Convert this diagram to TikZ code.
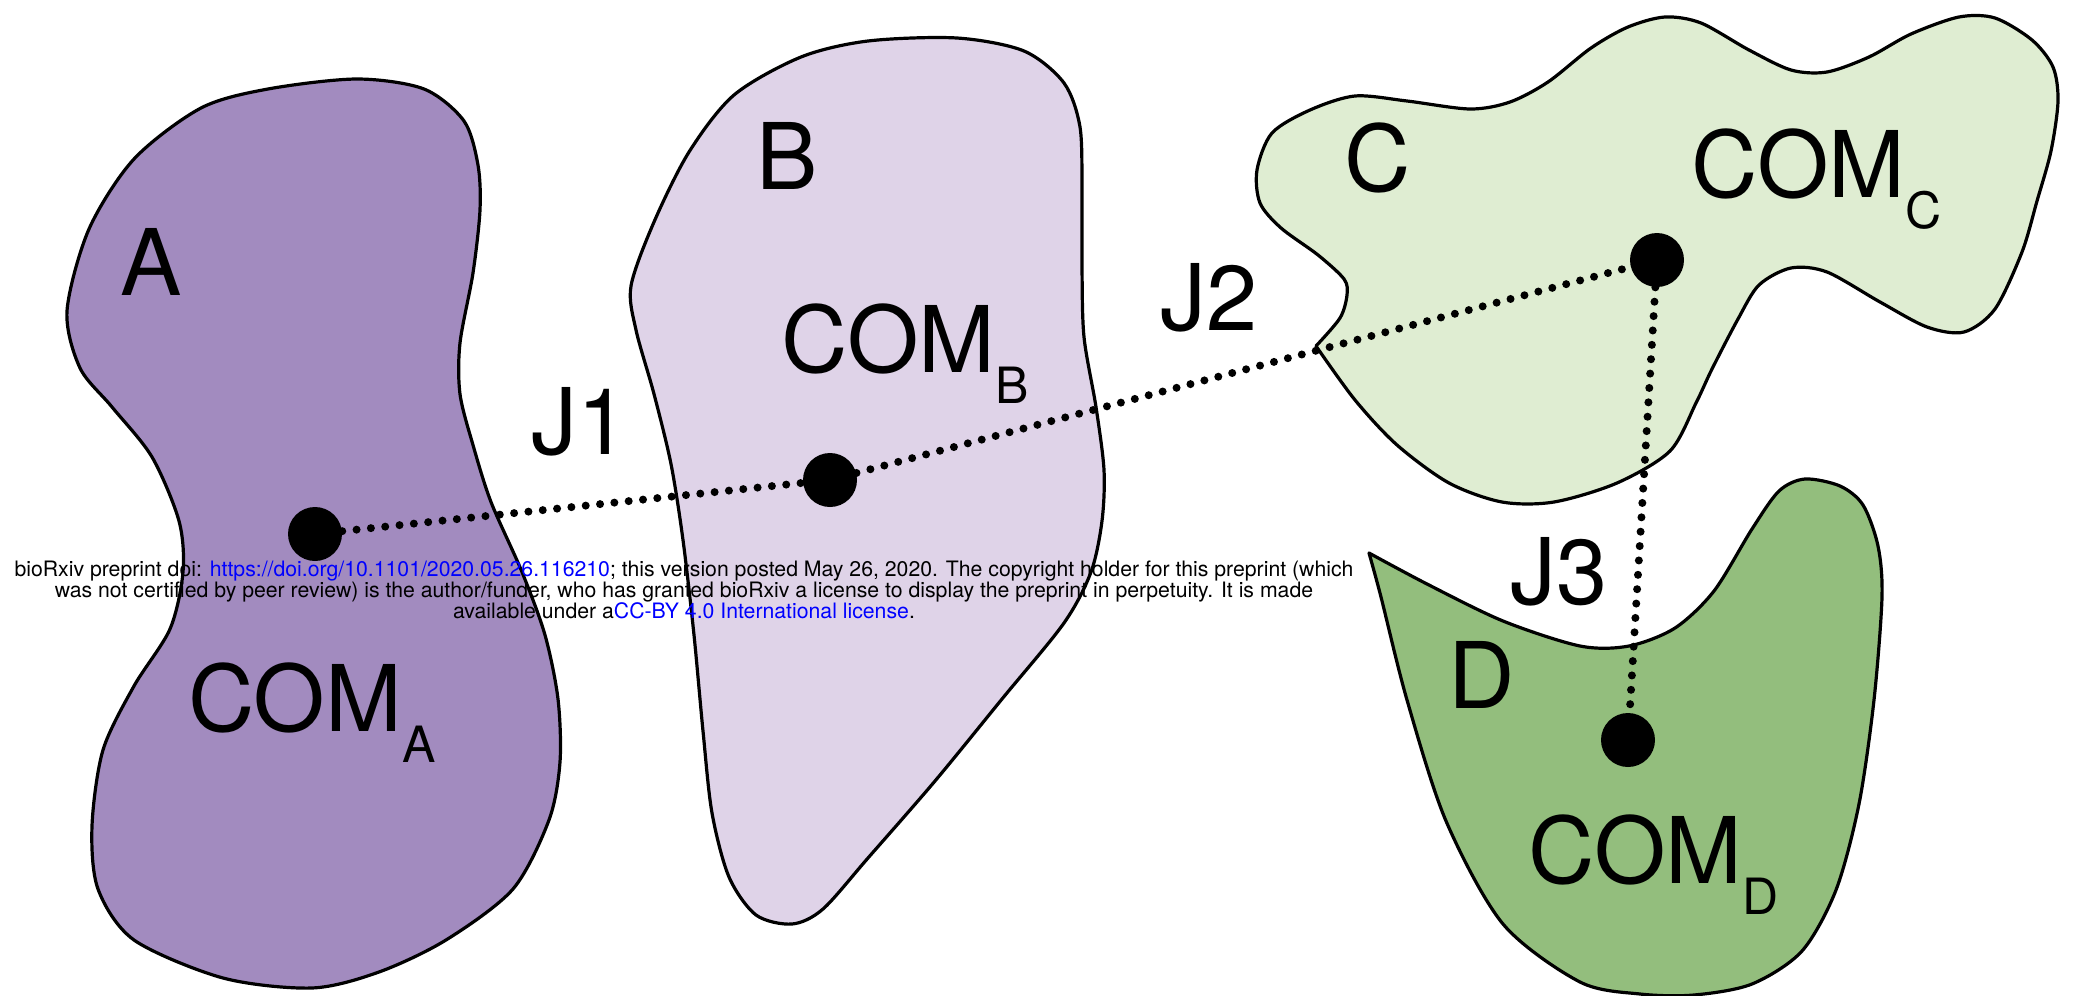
\documentclass[tikz,border=0pt]{standalone}
\usepackage{fontspec}
\setmainfont{TeX Gyre Heros}
\definecolor{colA}{RGB}{162,139,191}
\definecolor{colB}{RGB}{223,211,232}
\definecolor{colC}{RGB}{223,237,210}
\definecolor{colD}{RGB}{147,190,125}
\definecolor{linkblue}{RGB}{0,0,255}
\newcommand\comsub[1]{\raisebox{-15.5pt}{\fontsize{25}{28}\selectfont #1}}
\begin{document}
\begin{tikzpicture}[x=0.5pt,y=-0.5pt,
  blob/.style={draw=black, line width=1.6pt, line join=round},
  big/.style={font=\fontsize{46}{50}\selectfont, inner sep=0pt, anchor=base west},
  comdot/.style={circle, fill=black, minimum size=27pt, inner sep=0pt},
  joint/.style={line width=4pt, line cap=round, dash pattern=on 0pt off 7.2pt},
  wm/.style={font=\fontsize{10.62}{10.6}\selectfont, align=center, inner sep=0pt}]
\fill[white] (0,0) rectangle (2073,996);
\useasboundingbox (0,0) rectangle (2073,996);
% shape A
\draw[blob, fill=colA] plot[smooth cycle] coordinates {(67,311) (89,229) (134,159) (201,108) (268,89) (357,79) (424,89) (464,121) (478,165) (480,210) (473,273) (460,343) (460,394) (473,445) (491,502) (522,572) (545,635) (558,699) (560,762) (549,820) (513,889) (446,940) (379,972) (312,988) (223,978) (134,940) (98,889) (92,826) (103,750) (134,686) (170,629) (183,572) (179,521) (152,457) (112,407) (80,368)};
% shape B
\draw[blob, fill=colB] plot[smooth cycle] coordinates {(631,286) (654,222) (689,152) (734,95) (801,57) (868,41) (957,38) (1024,51) (1064,83) (1080,127) (1082,191) (1082,267) (1084,337) (1096,407) (1104,470) (1102,521) (1091,572) (1064,623) (1002,699) (935,781) (868,858) (823,909) (792,924) (756,915) (729,877) (712,813) (703,731) (694,635) (683,540) (671,464) (654,394) (636,330)};
% shape C
\draw[blob, fill=colC] plot[smooth] coordinates {(1316,346) (1340,318) (1347,295) (1344,279) (1318,255) (1281,228) (1260,203) (1257,170) (1272,133) (1310,110) (1355,96) (1407,101) (1470,109) (1510,102) (1548,82) (1591,48) (1628,27) (1665,17) (1701,23) (1749,50) (1791,70) (1827,72) (1869,57) (1911,34) (1959,17) (1995,18) (2032,40) (2053,67) (2058,101) (2051,151) (2037,201) (2022,252) (1995,309) (1964,332) (1927,327) (1880,302) (1827,272) (1791,268) (1759,285) (1738,319) (1712,369) (1696,403) (1670,451) (1617,483) (1554,502) (1502,502) (1449,483) (1397,445) (1355,400) (1316,346)} -- cycle;
% shape D
\draw[blob, fill=colD] plot[smooth] coordinates {(1369,553) (1427,584) (1503,621) (1580,646) (1629,646) (1675,628) (1714,591) (1752,529) (1779,491) (1805,479) (1840,486) (1863,505) (1878,546) (1882,597) (1874,700) (1859,804) (1836,890) (1802,951) (1752,984) (1694,995) (1640,994) (1580,982) (1503,924) (1446,821) (1407,700) (1381,597) (1369,553)} -- cycle;
% centres of mass
\node[comdot] (comA) at (315,534) {};
\node[comdot] (comB) at (830,480) {};
\node[comdot] (comC) at (1657,260) {};
\node[comdot] (comD) at (1628,740) {};
\draw[joint] (comA) -- (comB);
\draw[joint] (comB) -- (comC);
\draw[joint] (comC) -- (comD);
% labels
\node[big] (lA) at (120,295) {A};
\node[big] (lB) at (756,189) {B};
\node[big] (lC) at (1344,191) {C};
\node[big] (lD) at (1448,708) {D};
\node[big] (cA) at (188,731) {COM\comsub{A}};
\node[big] (cB) at (781,372) {COM\comsub{B}};
\node[big] (cC) at (1691,197) {COM\comsub{C}};
\node[big] (cD) at (1528,883) {COM\comsub{D}};
\node[big] (j1) at (531,454) {J1};
\node[big] (j2) at (1160,330) {J2};
\node[big] (j3) at (1510,604) {J3};
% watermark
\node[wm] (wmark) at (684,590) {bioRxiv preprint doi: \textcolor{linkblue}{https://doi.org/10.1101/2020.05.26.116210}; this version posted May 26, 2020. The copyright holder for this preprint (which\\ was not certified by peer review) is the author/funder, who has granted bioRxiv a license to display the preprint in perpetuity. It is made\\ available under a\textcolor{linkblue}{CC-BY 4.0 International license}.};
\end{tikzpicture}
\end{document}
